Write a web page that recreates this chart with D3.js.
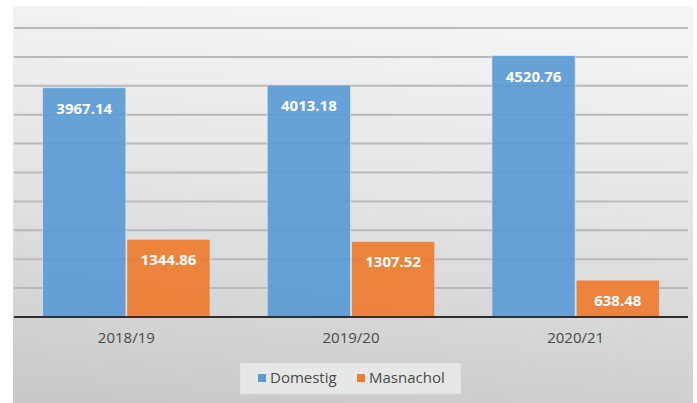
<!DOCTYPE html>
<html>
<head>
<meta charset="utf-8" />
<title>Domestig / Masnachol</title>
<script src="https://d3js.org/d3.v7.min.js"></script>
<style type="text/css">
body { margin: 0; background: #fff; }
svg { display: block; font-family: "Open Sans", "Noto Sans", sans-serif; }
</style>
</head>
<body>
<div id="chart"></div>
<script type="text/javascript">
var years = ["2018/19", "2019/20", "2020/21"];
var seriesNames = ["Domestig", "Masnachol"];
var domestig = [3967.14, 4013.18, 4520.76];
var masnachol = [1344.86, 1307.52, 638.48];
var colors = ["#5b9bd5", "#ed7d31"];

// note: "top" is taken by window.top, so use plotTop etc.
var width = 697,
    height = 403,
    frame = {x: 13, y: 6, w: 680, h: 397},
    plotLeft = 14, plotRight = 688, plotTop = 28, plotBottom = 317;

var svg = d3.select("#chart")
    .append("svg")
    .attr("width", width)
    .attr("height", height);

var defs = svg.append("defs");
var grad = defs.append("linearGradient")
    .attr("id", "bg")
    .attr("x1", "0.35").attr("y1", "0")
    .attr("x2", "0.2").attr("y2", "1");
grad.append("stop").attr("offset", "0").attr("stop-color", "#f4f4f4");
grad.append("stop").attr("offset", "0.45").attr("stop-color", "#e4e4e4");
grad.append("stop").attr("offset", "1").attr("stop-color", "#c8caca");

svg.append("rect")
    .attr("x", frame.x).attr("y", frame.y)
    .attr("width", frame.w).attr("height", frame.h)
    .attr("fill", "url(#bg)");

var x0 = d3.scaleBand()
    .domain(years)
    .range([plotLeft, plotRight])
    .paddingInner(0.25)
    .paddingOuter(0.125);

var x1 = d3.scaleBand()
    .domain(seriesNames)
    .range([0, x0.bandwidth()]);

var y = d3.scaleLinear()
    .domain([0, 5000])
    .range([plotBottom, plotTop]);

// gridlines
svg.append("g")
    .selectAll("line")
    .data(d3.range(500, 5001, 500))
    .enter()
    .append("line")
    .attr("x1", plotLeft).attr("x2", plotRight)
    .attr("y1", d => y(d)).attr("y2", d => y(d))
    .attr("stroke", "#b9b9b9")
    .attr("stroke-width", 2);

var rows = years.map((yr, i) => ({year: yr, values: [domestig[i], masnachol[i]]}));

var groups = svg.selectAll(".grp")
    .data(rows)
    .enter()
    .append("g")
    .attr("class", "grp")
    .attr("transform", d => "translate(" + x0(d.year) + ",0)");

var cells = groups.selectAll("g")
    .data(d => d.values.map((v, j) => ({name: seriesNames[j], value: v, color: colors[j]})))
    .enter()
    .append("g");

cells.append("rect")
    .attr("x", d => x1(d.name) + 0.5)
    .attr("width", x1.bandwidth() - 1)
    .attr("y", d => y(d.value))
    .attr("height", d => plotBottom - y(d.value))
    .attr("fill", d => d.color)
    .attr("fill-opacity", 0.93)
    .attr("stroke", "#e6eef5")
    .attr("stroke-opacity", 0.6)
    .attr("stroke-width", 1);

cells.append("text")
    .attr("x", d => x1(d.name) + x1.bandwidth() / 2)
    .attr("y", d => y(d.value) + 26)
    .attr("text-anchor", "middle")
    .attr("fill", "#ffffff")
    .attr("font-size", "15px")
    .attr("font-weight", "bold")
    .text(d => d.value.toFixed(2));

// baseline
svg.append("line")
    .attr("x1", plotLeft).attr("x2", plotRight)
    .attr("y1", plotBottom).attr("y2", plotBottom)
    .attr("stroke", "#2f2f2f")
    .attr("stroke-width", 2);

// x axis labels
var xAxis = d3.axisBottom(x0).tickSize(0).tickPadding(15);
var gX = svg.append("g")
    .attr("transform", "translate(0," + plotBottom + ")")
    .call(xAxis);
gX.select(".domain").remove();
gX.selectAll("text")
    .attr("fill", "#4a4a4a")
    .attr("font-size", "15px")
    .attr("font-family", "'Open Sans', 'Noto Sans', sans-serif");

// legend
var legend = svg.append("g");
legend.append("rect")
    .attr("x", 240).attr("y", 363)
    .attr("width", 221).attr("height", 31)
    .attr("fill", "#e6e7e7")
    .attr("stroke", "#d6d6d6")
    .attr("stroke-width", 0.5);

var legX = [258, 357];
var items = legend.selectAll(".leg")
    .data(seriesNames)
    .enter()
    .append("g")
    .attr("class", "leg")
    .attr("transform", (d, i) => "translate(" + legX[i] + ",374)");

items.append("rect")
    .attr("width", 8).attr("height", 8)
    .attr("fill", (d, i) => colors[i]);

items.append("text")
    .attr("x", 12)
    .attr("y", 9)
    .attr("fill", "#4a4a4a")
    .attr("font-size", "15px")
    .text(d => d);
</script>
</body>
</html>
